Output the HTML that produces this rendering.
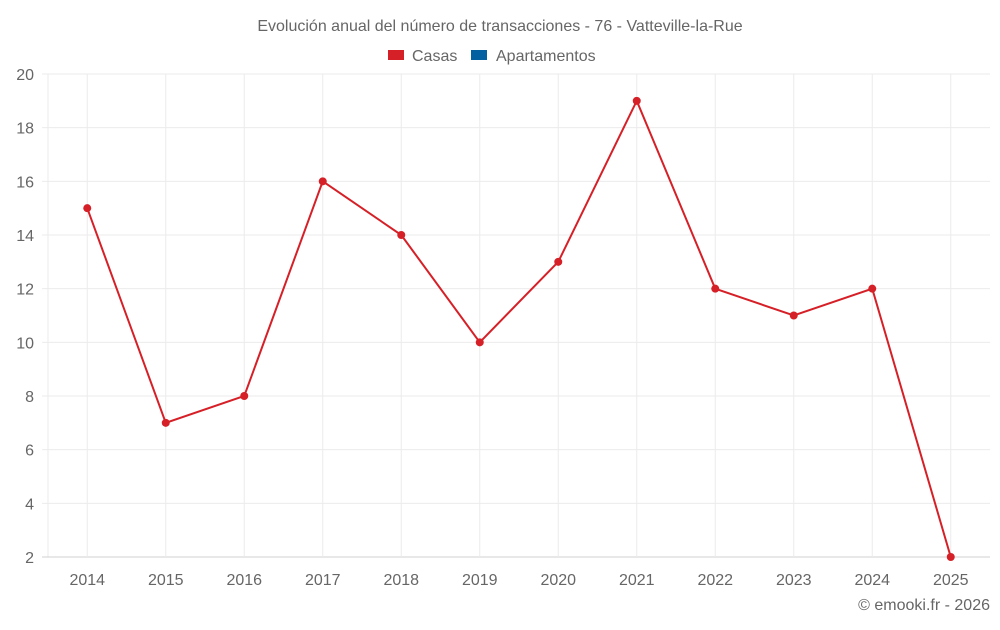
<!DOCTYPE html>
<html><head><meta charset="utf-8"><style>
body{margin:0;background:#fff;font-family:"Liberation Sans",sans-serif;}
svg text{font-family:"Liberation Sans",sans-serif;fill:#666;}
</style></head><body>
<svg id="c" width="1000" height="625">
<text x="500" y="31" text-anchor="middle" font-size="16">Evolución anual del número de transacciones - 76 - Vatteville-la-Rue</text>
<g>
<rect x="388" y="50" width="16" height="10" fill="#d62027"/>
<text x="412" y="61" font-size="16">Casas</text>
<rect x="471" y="50" width="16" height="10" fill="#0060a0"/>
<text x="496" y="61" font-size="16">Apartamentos</text>
</g>
<g id="grid"></g><g id="axes"></g><g id="series"></g>
<text x="990" y="610" text-anchor="end" font-size="16">© emooki.fr - 2026</text>
</svg>
<script>
const years=["2014","2015","2016","2017","2018","2019","2020","2021","2022","2023","2024","2025"];
const casas=[15,7,8,16,14,10,13,19,12,11,12,2];
const yTicks=[2,4,6,8,10,12,14,16,18,20];
const L=48,R=990,T=74,B=557,ymin=2,ymax=20;
const bw=(R-L)/years.length;
const xs=i=>L+bw*(i+0.5);
const ys=v=>B-(v-ymin)/(ymax-ymin)*(B-T);
const NS="http://www.w3.org/2000/svg";
function mk(t,a,p){const e=document.createElementNS(NS,t);for(const k in a)e.setAttribute(k,a[k]);p.appendChild(e);return e;}
const g=document.getElementById('grid'),ax=document.getElementById('axes'),s=document.getElementById('series');
const lb=mk('line',{x1:L,x2:L,y1:T,y2:B,stroke:'#ebebeb'},g);


yTicks.forEach(v=>{
 const l=mk('line',{x1:L-6,x2:R,y1:ys(v),y2:ys(v),stroke:v===ymin?'#d0d0d0':'#ebebeb'},g);
 
 
 const t=mk('text',{x:L-14,y:ys(v)+6,'text-anchor':'end','font-size':16},ax);t.textContent=v;
 
 
});
years.forEach((y,i)=>{
 const l=mk('line',{x1:xs(i),x2:xs(i),y1:T,y2:B,stroke:'#ebebeb'},g);
 
 
 const t=mk('text',{x:xs(i),y:585,'text-anchor':'middle','font-size':16},ax);t.textContent=y;
 
 
});
const line=mk('polyline',{points:casas.map((v,i)=>xs(i)+','+ys(v)).join(' '),fill:'none',stroke:'#d62027','stroke-width':2},s);


casas.forEach((v,i)=>{
 const c=mk('circle',{cx:xs(i),cy:ys(v),r:4,fill:'#d62027'},s);
 
 
});
</script>
</body></html>
